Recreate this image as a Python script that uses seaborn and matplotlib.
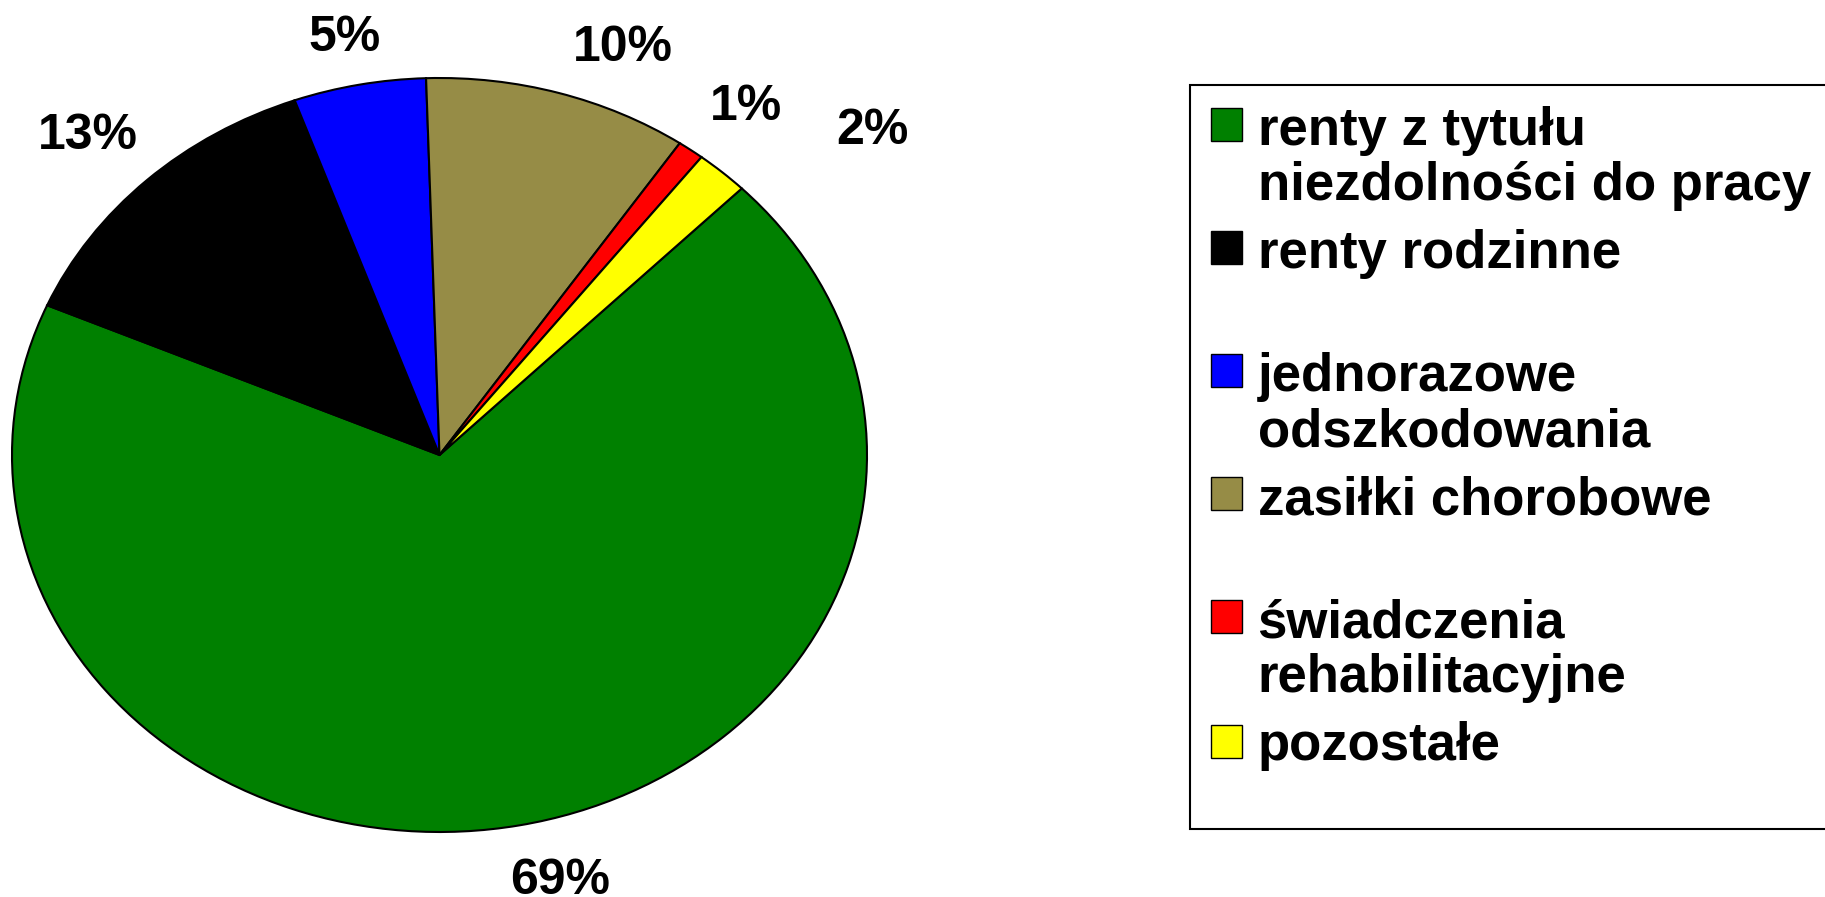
import matplotlib
matplotlib.use('Agg')
import matplotlib.pyplot as plt
import seaborn as sns
from matplotlib.patches import Rectangle, Wedge
from matplotlib.legend_handler import HandlerPatch

# --- Dane ---
KATEGORIE = ['renty z tytułu\nniezdolności do pracy', 'renty rodzinne',
             'jednorazowe\nodszkodowania', 'zasiłki chorobowe',
             'świadczenia\nrehabilitacyjne', 'pozostałe']
UDZIALY = [69, 13, 5, 10, 1, 2]
ETYKIETY = ['69%', '13%', '5%', '10%', '1%', '2%']
KOLORY = ['#008000', '#000000', '#0000FF', '#968C46', '#FF0000', '#FFFF00']

# rozsunięcie etykiet (jak w Excelu)
ROZSUN_X = [1.5, 1.2, 1.18, 1.54, 1.22, 1.53]
ROZSUN_Y = [1.15, 1.16, 1.125, 1.125, 1.14, 1.145]

sns.set_theme(style='white')
plt.rcParams['font.family'] = ['Liberation Sans', 'DejaVu Sans']
plt.rcParams['text.color'] = 'black'

fig = plt.figure(figsize=(18.25, 8.97), dpi=100)
ax = fig.add_axes([12 / 1825, 65 / 897, 855 / 1825, 754 / 897])

wedges, texts = ax.pie(
    UDZIALY, colors=KOLORY, labels=ETYKIETY, startangle=45, counterclock=False,
    labeldistance=1.0,
    wedgeprops=dict(edgecolor='black', linewidth=1.5),
    textprops=dict(ha='center', va='center', fontsize=36, fontweight='bold', color='black'),
)
ax.set_aspect('auto')
ax.set_xlim(-1, 1)
ax.set_ylim(-1, 1)
ax.axis('off')

for t, fx, fy in zip(texts, ROZSUN_X, ROZSUN_Y):
    x, y = t.get_position()
    t.set_position((x * fx, y * fy))

# legenda - kwadrat wyrównany do pierwszej linii opisu
ODSTEP_LINII = 1.13
ODSTEP_OSTATNIEJ = 0.67
przesuniecie = {w: 0.67 for w in wedges}
przesuniecie[wedges[-1]] = 0.46

def kwadrat(legend, orig_handle, xdescent, ydescent, width, height, fontsize):
    dy = przesuniecie.get(orig_handle, 0.67) * fontsize
    return Rectangle((-xdescent, -ydescent + dy), width, height)

opisy = [k if '\n' in k else k + '\n ' for k in KATEGORIE]
leg = fig.legend(
    wedges, opisy, loc='upper left', bbox_to_anchor=(1190 / 1825, 1 - 85 / 897),
    bbox_transform=fig.transFigure, borderaxespad=0, frameon=True, fancybox=False,
    framealpha=1, edgecolor='black', borderpad=0.4, handletextpad=0.3,
    handlelength=0.58, handleheight=0.58, labelspacing=0.34,
    prop={'weight': 'bold', 'size': 38},
    handler_map={Wedge: HandlerPatch(patch_func=kwadrat)},
)
leg.get_frame().set_linewidth(1.5)
for t in leg.get_texts():
    t.set_color('black')
    t.set_linespacing(ODSTEP_LINII)
leg.get_texts()[-1].set_linespacing(ODSTEP_OSTATNIEJ)
for h in leg.legend_handles:
    h.set_linewidth(1)

fig.savefig('out.png', dpi=100)
